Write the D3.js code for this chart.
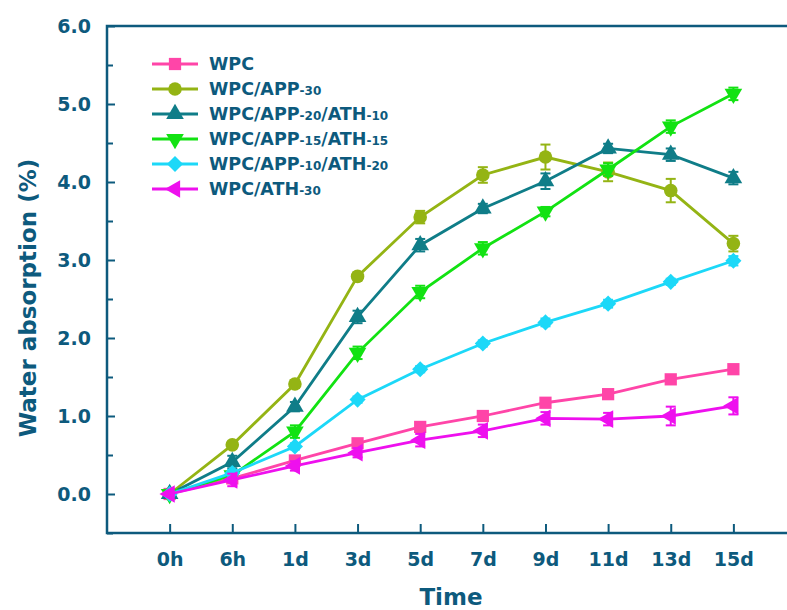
<!doctype html>
<html>
  <script src="https://d3js.org/d3.v7.min.js"></script>
  <style>
    body { margin: 0; background: #fff; }
    text { font-family: "DejaVu Sans", Arial, sans-serif; font-weight: bold; }
  </style>
  <div id="chart"></div>
  <script>
        // data
        var timeLabels = ["0h", "6h", "1d", "3d", "5d", "7d", "9d", "11d", "13d", "15d"];
        var seriesNames = ["WPC", "WPC/APP-30", "WPC/APP-20/ATH-10", "WPC/APP-15/ATH-15", "WPC/APP-10/ATH-20", "WPC/ATH-30"];
        var wpc        = [0, 0.20, 0.43, 0.65, 0.86, 1.00, 1.17, 1.28, 1.47, 1.60];
        var app30      = [0, 0.63, 1.41, 2.79, 3.55, 4.09, 4.32, 4.13, 3.89, 3.21];
        var app20ath10 = [0, 0.41, 1.12, 2.27, 3.19, 3.66, 4.01, 4.43, 4.35, 4.05];
        var app15ath15 = [0, 0.24, 0.80, 1.81, 2.59, 3.15, 3.62, 4.16, 4.71, 5.13];
        var app10ath20 = [0, 0.27, 0.61, 1.21, 1.60, 1.93, 2.20, 2.44, 2.72, 2.99];
        var ath30      = [0, 0.18, 0.36, 0.53, 0.69, 0.81, 0.97, 0.96, 1.00, 1.13];
        var errWpc        = [0.02, 0.03, 0.03, 0.04, 0.04, 0.04, 0.04, 0.04, 0.04, 0.04];
        var errApp30      = [0.02, 0.04, 0.05, 0.05, 0.08, 0.10, 0.16, 0.12, 0.15, 0.10];
        var errApp20ath10 = [0.02, 0.08, 0.06, 0.08, 0.08, 0.06, 0.10, 0.06, 0.08, 0.08];
        var errApp15ath15 = [0.02, 0.06, 0.08, 0.08, 0.08, 0.08, 0.06, 0.08, 0.08, 0.08];
        var errApp10ath20 = [0.02, 0.04, 0.04, 0.04, 0.04, 0.04, 0.05, 0.05, 0.04, 0.06];
        var errAth30      = [0.02, 0.08, 0.06, 0.06, 0.08, 0.08, 0.08, 0.08, 0.12, 0.11];
        var yTicks = [0, 1, 2, 3, 4, 5, 6];
        var yMinorTicks = [-0.5, 0.5, 1.5, 2.5, 3.5, 4.5, 5.5];

        var colors = ["#ff45a8", "#94b414", "#0f7d88", "#12e212", "#1cd8f8", "#ee10ee"];
        var shapes = ["square", "circle", "up", "down", "diamond", "left"];
        var values = [wpc, app30, app20ath10, app15ath15, app10ath20, ath30];
        var errors = [errWpc, errApp30, errApp20ath10, errApp15ath15, errApp10ath20, errAth30];
        var ink = "#0d5a7d";

        var W = 787, H = 610;
        var plotL = 107, plotR = 786, plotT = 26, plotB = 533;

        var svg = d3.select("#chart")
          .append("svg")
            .attr("width", W)
            .attr("height", H);

        var x = d3.scaleLinear().domain([-1, 9.84]).range([plotL, plotR]);
        var y = d3.scaleLinear().domain([-0.5, 6]).range([plotB, plotT]);

        // frame (right side runs past the window edge, as in the original)
        svg.append("rect")
          .attr("x", plotL).attr("y", plotT)
          .attr("width", plotR - plotL + 6).attr("height", plotB - plotT)
          .attr("fill", "none").attr("stroke", ink).attr("stroke-width", 2.5);

        // X axis, ticks inside
        var xAxis = svg.append("g")
          .attr("transform", "translate(0," + plotB + ")")
          .call(d3.axisBottom(x)
            .tickValues(d3.range(timeLabels.length))
            .tickFormat(function(i) { return timeLabels[i]; })
            .tickSizeInner(-9).tickSizeOuter(0).tickPadding(20));
        xAxis.select(".domain").remove();
        xAxis.selectAll("line").attr("stroke", ink).attr("stroke-width", 2);
        xAxis.selectAll("text").attr("fill", ink).style("font-size", "19px");

        // Y axis, major and minor ticks inside
        var yMinor = svg.append("g")
          .attr("transform", "translate(" + plotL + ",0)")
          .call(d3.axisLeft(y).tickValues(yMinorTicks)
            .tickSizeInner(-6).tickSizeOuter(0).tickFormat(""));
        yMinor.select(".domain").remove();
        yMinor.selectAll("line").attr("stroke", ink).attr("stroke-width", 2);

        var yAxis = svg.append("g")
          .attr("transform", "translate(" + plotL + ",0)")
          .call(d3.axisLeft(y).tickValues(yTicks)
            .tickFormat(d3.format(".1f"))
            .tickSizeInner(-8).tickSizeOuter(0).tickPadding(16));
        yAxis.select(".domain").remove();
        yAxis.selectAll("line").attr("stroke", ink).attr("stroke-width", 2);
        yAxis.selectAll("text").attr("fill", ink).style("font-size", "19px");

        // axis titles
        svg.append("text")
          .attr("x", 451).attr("y", 605)
          .attr("text-anchor", "middle")
          .attr("fill", ink).style("font-size", "23px")
          .text("Time");
        svg.append("text")
          .attr("transform", "translate(36,298) rotate(-90)")
          .attr("text-anchor", "middle")
          .attr("fill", ink).style("font-size", "23px")
          .text("Water absorption (%)");

        // marker path builder
        function marker(shape) {
          if (shape == "square") return d3.symbol().type(d3.symbolSquare).size(150)();
          if (shape == "circle") return d3.symbol().type(d3.symbolCircle).size(145)();
          if (shape == "diamond") return d3.symbol().type(d3.symbolSquare).size(130)();
          return d3.symbol().type(d3.symbolTriangle).size(135)();
        }
        function markerRot(shape) {
          if (shape == "down") return 180;
          if (shape == "left") return -90;
          if (shape == "diamond") return 45;
          return 0;
        }

        var line = d3.line()
          .x(function(d, i) { return x(i); })
          .y(function(d) { return y(d); });

        values.forEach(function(vals, s) {
          var g = svg.append("g");
          g.append("path")
            .datum(vals)
            .attr("d", line)
            .attr("fill", "none")
            .attr("stroke", colors[s])
            .attr("stroke-width", 2.8);

          // error bars
          var eb = g.selectAll(".eb")
            .data(vals)
            .enter()
            .append("g");
          eb.append("line")
            .attr("x1", function(d, i) { return x(i); })
            .attr("x2", function(d, i) { return x(i); })
            .attr("y1", function(d, i) { return y(d - errors[s][i]); })
            .attr("y2", function(d, i) { return y(d + errors[s][i]); })
            .attr("stroke", colors[s]).attr("stroke-width", 2);
          [-1, 1].forEach(function(sg) {
            eb.append("line")
              .attr("x1", function(d, i) { return x(i) - 5; })
              .attr("x2", function(d, i) { return x(i) + 5; })
              .attr("y1", function(d, i) { return y(d + sg * errors[s][i]); })
              .attr("y2", function(d, i) { return y(d + sg * errors[s][i]); })
              .attr("stroke", colors[s]).attr("stroke-width", 2);
          });

          g.selectAll(".pt")
            .data(vals)
            .enter()
            .append("path")
            .attr("d", marker(shapes[s]))
            .attr("transform", function(d, i) {
              return "translate(" + x(i) + "," + y(d) + ") rotate(" + markerRot(shapes[s]) + ")";
            })
            .attr("fill", colors[s]);
        });

        // legend
        var legend = svg.append("g");
        seriesNames.forEach(function(name, s) {
          var ly = 64 + s * 25;
          legend.append("line")
            .attr("x1", 152).attr("x2", 198)
            .attr("y1", ly).attr("y2", ly)
            .attr("stroke", colors[s]).attr("stroke-width", 2.8);
          legend.append("path")
            .attr("d", marker(shapes[s]))
            .attr("transform", "translate(175," + ly + ") rotate(" + markerRot(shapes[s]) + ")")
            .attr("fill", colors[s]);
          var t = legend.append("text")
            .attr("x", 209).attr("y", ly + 6)
            .attr("fill", ink).style("font-size", "17.5px");
          name.split(/(-\d+)/).forEach(function(part) {
            if (part == "") return;
            t.append("tspan")
              .style("font-size", /^-\d+$/.test(part) ? "12px" : "17.5px")
              .text(part);
          });
        });
    </script>
</html>
